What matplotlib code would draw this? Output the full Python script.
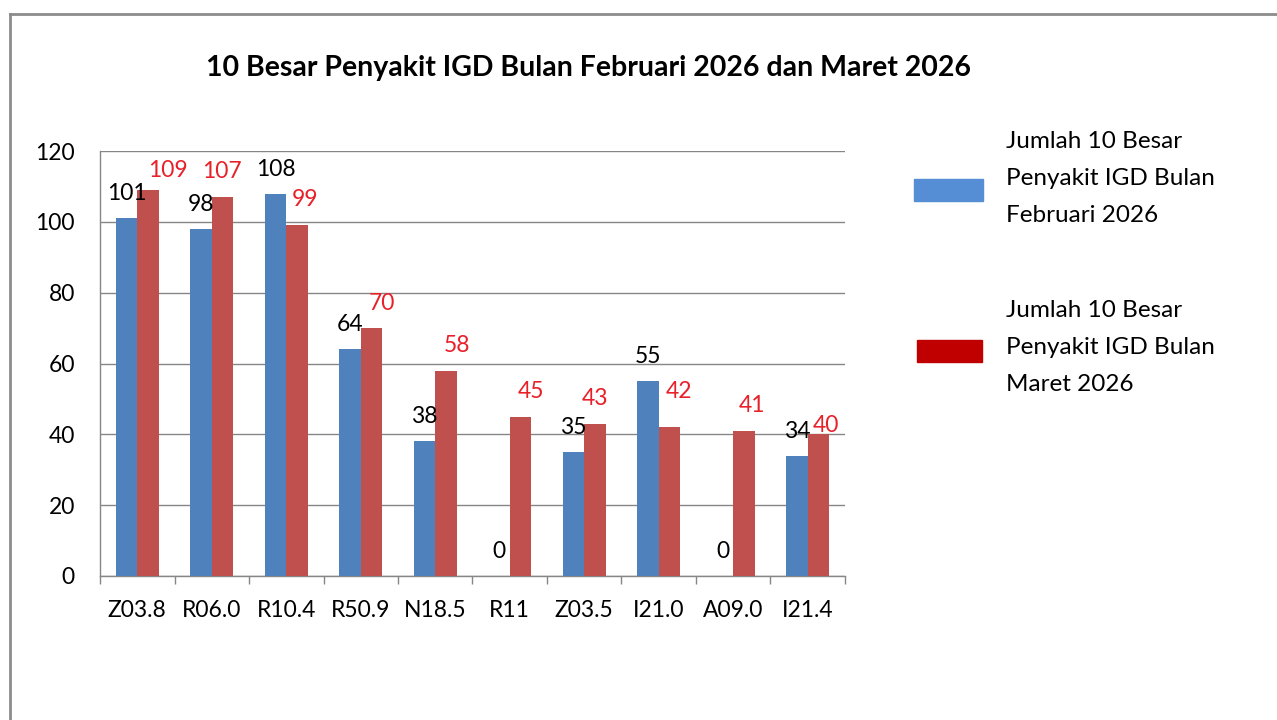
import numpy as np
import matplotlib
matplotlib.use("Agg")
import matplotlib.pyplot as plt
from matplotlib.patches import Rectangle
from matplotlib.lines import Line2D

plt.rcParams['font.family'] = ['Lato', 'DejaVu Sans']

# data
categories = ["Z03.8", "R06.0", "R10.4", "R50.9", "N18.5", "R11", "Z03.5", "I21.0", "A09.0", "I21.4"]
februari = [101, 98, 108, 64, 38, 0, 35, 55, 0, 34]
maret = [109, 107, 99, 70, 58, 45, 43, 42, 41, 40]
title = "10 Besar Penyakit IGD Bulan Februari 2026 dan Maret 2026"
legend_feb = "Jumlah 10 Besar\nPenyakit IGD Bulan\nFebruari 2026"
legend_mar = "Jumlah 10 Besar\nPenyakit IGD Bulan\nMaret 2026"

# manual nudges of the red data labels (pixels), as placed in the original
maret_dx = [20, 0, 8, 11, 11, 11, 0, 10, 8, 8]
maret_dy = [13, 19, 19, 18, 19, 19, 19, 29, 19, 2]

W, H = 1277, 720
BLUE = "#4F81BD"
RED = "#C0504D"
GRID = "#868686"


def fx(px):
    return px / W


def fy(py):
    return 1 - py / H


def legend_text(txt, x0, y0, step=37):
    # one line at a time so the line pitch matches the slide
    for k, line in enumerate(txt.split("\n")):
        fig.text(fx(x0), fy(y0 + k * step), line, ha="left", va="baseline", fontsize=17.5)


fig = plt.figure(figsize=(W / 100, H / 100), dpi=100)
ax = fig.add_axes([fx(100), fy(576), fx(845) - fx(100), fy(151) - fy(576)])

x = np.arange(len(categories))
w = 1 / 3.5  # excel gap width 150%
ax.bar(x - w / 2, februari, w, color=BLUE, zorder=3)
ax.bar(x + w / 2, maret, w, color=RED, zorder=3)

for i, v in enumerate(februari):
    ax.annotate(str(v), xy=(x[i] - w / 2, v), xytext=(0, 18), textcoords="offset pixels",
                ha="center", va="baseline", fontsize=16.5, color="black", zorder=4)
for i, v in enumerate(maret):
    ax.annotate(str(v), xy=(x[i] + w / 2, v), xytext=(maret_dx[i], maret_dy[i]),
                textcoords="offset pixels", ha="center", va="baseline",
                fontsize=16.5, color="#E8202A", zorder=4)

ax.set_xlim(-0.5, len(categories) - 0.5)
ax.set_ylim(0, 120)
ax.set_yticks(np.arange(0, 121, 20))
ax.set_xticks(x)
ax.set_xticklabels(categories)
ax.set_xticks(np.arange(-0.5, len(categories)), minor=True)
ax.tick_params(axis="x", which="major", length=0, pad=17, labelsize=16.5)
ax.tick_params(axis="x", which="minor", length=6, width=1, color=GRID, direction="out")
ax.tick_params(axis="y", length=0, pad=18, labelsize=16.5)
ax.yaxis.grid(True, color=GRID, linewidth=1, zorder=0)
ax.set_axisbelow(True)
for s in ["top", "right"]:
    ax.spines[s].set_visible(False)
for s in ["left", "bottom"]:
    ax.spines[s].set_color(GRID)
    ax.spines[s].set_linewidth(1)

fig.text(fx(588), fy(68), title, ha="center", va="center", fontsize=20.5, fontweight="bold")

# legend drawn by hand, laid out like the original
fig.add_artist(Rectangle((fx(914), fy(201)), fx(983) - fx(914), fy(179) - fy(201),
                         transform=fig.transFigure, color="#558ED5"))
fig.add_artist(Rectangle((fx(917), fy(362)), fx(982) - fx(917), fy(340) - fy(362),
                         transform=fig.transFigure, color="#C00000"))
legend_text(legend_feb, 1006, 148)
legend_text(legend_mar, 1006, 317)

# frame around the slide area
fig.add_artist(Line2D([fx(10), 1], [fy(14), fy(14)], transform=fig.transFigure, color="#8C8C8C", linewidth=2))
fig.add_artist(Line2D([fx(10), fx(10)], [fy(14), 0], transform=fig.transFigure, color="#8C8C8C", linewidth=2))

fig.savefig("out.png", dpi=100)
